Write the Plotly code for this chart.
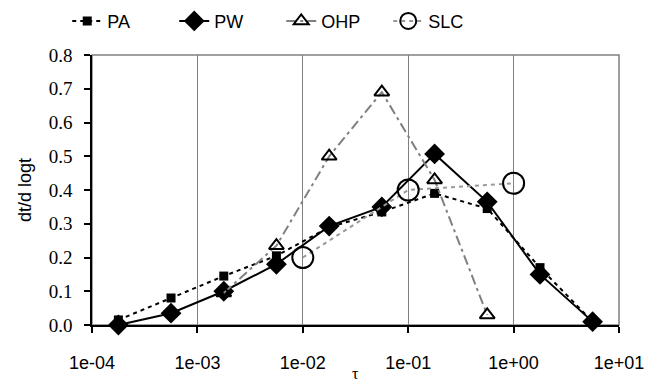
import plotly.graph_objects as go

# ---- data ----
tau_all = [1.78e-4, 5.62e-4, 1.78e-3, 5.62e-3, 1.78e-2, 5.62e-2, 1.78e-1, 5.62e-1, 1.78, 5.62]
pa = [0.015, 0.08, 0.145, 0.205, 0.29, 0.335, 0.39, 0.345, 0.17, 0.01]
pw = [0.0, 0.035, 0.10, 0.18, 0.293, 0.35, 0.507, 0.365, 0.15, 0.01]
tau_ohp = [1.78e-3, 5.62e-3, 1.78e-2, 5.62e-2, 1.78e-1, 5.62e-1]
ohp = [0.095, 0.235, 0.50, 0.69, 0.43, 0.03]
tau_slc = [1e-2, 1e-1, 1.0]
slc = [0.20, 0.40, 0.42]

x_tickvals = [1e-4, 1e-3, 1e-2, 1e-1, 1e0, 1e1]
x_ticktext = ["1e-04", "1e-03", "1e-02", "1e-01", "1e+00", "1e+01"]

GRAY = "#808080"
SERIF = "Liberation Serif"
SANS = "Liberation Sans"

fig = go.Figure()
fig.add_trace(go.Scatter(
    x=tau_all, y=pa, name="PA", mode="lines+markers", cliponaxis=False,
    line=dict(color="black", width=2, dash="4px,4px"),
    marker=dict(symbol="square", size=9, color="black")))
fig.add_trace(go.Scatter(
    x=tau_all, y=pw, name="PW", mode="lines+markers", cliponaxis=False,
    line=dict(color="black", width=2),
    marker=dict(symbol="diamond", size=16, color="black")))
fig.add_trace(go.Scatter(
    x=tau_ohp, y=ohp, name="OHP", mode="lines+markers", cliponaxis=False,
    line=dict(color=GRAY, width=2, dash="10px,4px,3px,4px"),
    marker=dict(symbol="triangle-up-open", size=13, color="black",
                line=dict(width=2, color="black"))))
fig.add_trace(go.Scatter(
    x=tau_slc, y=slc, name="SLC", mode="lines+markers", cliponaxis=False,
    line=dict(color="#999999", width=2, dash="4px,4px"),
    marker=dict(symbol="circle-open", size=21, color="black",
                line=dict(width=2, color="black"))))

fig.add_shape(type="rect", xref="paper", yref="paper", x0=0, y0=0, x1=1, y1=1,
              line=dict(color=GRAY, width=1.5), layer="below")

fig.add_annotation(text="τ", xref="paper", yref="paper", x=0.5, y=-0.178,
                   xanchor="center", yanchor="middle", showarrow=False,
                   font=dict(family=SERIF, size=16, color="black"))

fig.update_layout(
    width=666, height=381,
    margin=dict(l=92, r=47, t=55, b=56, autoexpand=False),
    paper_bgcolor="white", plot_bgcolor="white",
    showlegend=True,
    legend=dict(orientation="h", x=-0.047, xanchor="left", y=1.125, yanchor="middle",
                font=dict(family=SANS, size=18, color="black"),
                entrywidth=62, entrywidthmode="pixels",
                bgcolor="rgba(0,0,0,0)"),
    xaxis=dict(type="log", range=[-4, 1], tickvals=x_tickvals, ticktext=x_ticktext,
               automargin=False,
               showgrid=True, gridcolor=GRAY, gridwidth=1,
               showline=True, linecolor="black", linewidth=1.5,
               ticks="outside", ticklen=6, tickcolor="black", tickwidth=1.5,
               ticklabelstandoff=15,
               tickfont=dict(family=SANS, size=18, color="black"),
               zeroline=False),
    yaxis=dict(range=[0, 0.8], dtick=0.1, tickformat=".1f",
               automargin=False,
               showgrid=False, zeroline=False,
               showline=True, linecolor="black", linewidth=1.5,
               ticks="outside", ticklen=6, tickcolor="black", tickwidth=1.5,
               ticklabelstandoff=8,
               tickfont=dict(family=SERIF, size=19, color="black"),
               title=dict(text="dt/d logt", standoff=12,
                          font=dict(family=SANS, size=18, color="black"))),
)

fig.write_html("out.html",
               config={"displayModeBar": False},
               post_script="document.body.style.margin='0';document.body.style.padding='0';")
